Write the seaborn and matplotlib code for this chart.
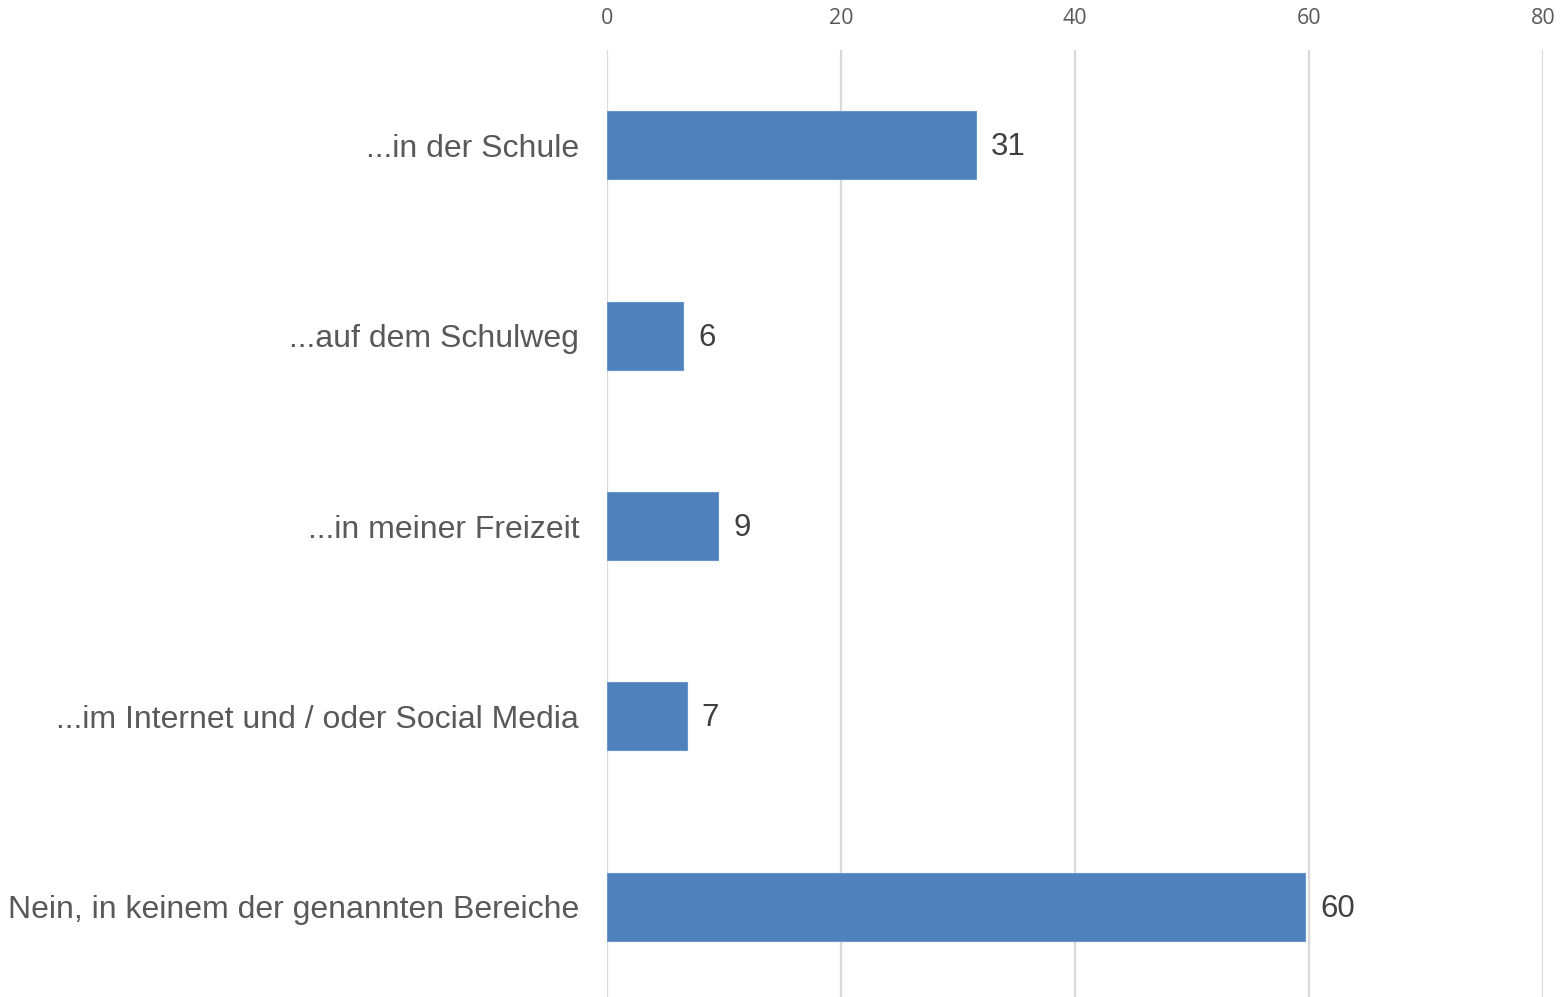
import matplotlib
matplotlib.use("Agg")
import matplotlib.pyplot as plt
import seaborn as sns
import pandas as pd

categories = ["...in der Schule", "...auf dem Schulweg", "...in meiner Freizeit",
              "...im Internet und / oder Social Media", "Nein, in keinem der genannten Bereiche"]
values = [31.5, 6.5, 9.5, 6.8, 59.7]
value_labels = ["31", "6", "9", "7", "60"]
x_ticks = [0, 20, 40, 60, 80]

df = pd.DataFrame({"cat": categories, "val": values})

sns.set_theme(style="white")
plt.rcParams["font.family"] = ["Liberation Sans", "DejaVu Sans"]

W, H = 1561, 997
fig = plt.figure(figsize=(W / 100, H / 100), dpi=100)
ax = fig.add_axes([607 / W, (997 - 1002) / H, 936 / W, 952 / H])

sns.barplot(data=df, y="cat", x="val", orient="h", color="#4f81bd", width=0.357,
            saturation=1, ax=ax, edgecolor="#6a95c9", linewidth=0.8, zorder=3)

ax.set_xlim(0, 80)
ax.set_ylim(4.5, -0.5)
ax.set_xticks(x_ticks)
ax.xaxis.tick_top()
ax.set_xticklabels([str(t) for t in x_ticks], fontsize=15.5, color="#595959",
                   fontfamily=["Open Sans", "DejaVu Sans"])
ax.tick_params(axis="x", length=0, pad=15)
ax.tick_params(axis="y", length=0, pad=20, labelsize=23, labelcolor="#595959")
ax.set_xlabel("")
ax.set_ylabel("")
for s in ax.spines.values():
    s.set_visible(False)
ax.grid(axis="x", color="#d9d9d9", linewidth=1.6, zorder=0)
ax.grid(axis="y", visible=False)

for i, (v, lab) in enumerate(zip(values, value_labels)):
    ax.annotate(lab, xy=(v, i), xytext=(11, -1.5), textcoords="offset points",
                va="center", ha="left", fontsize=22.5, color="#404040")

fig.savefig("out.png", dpi=100)
